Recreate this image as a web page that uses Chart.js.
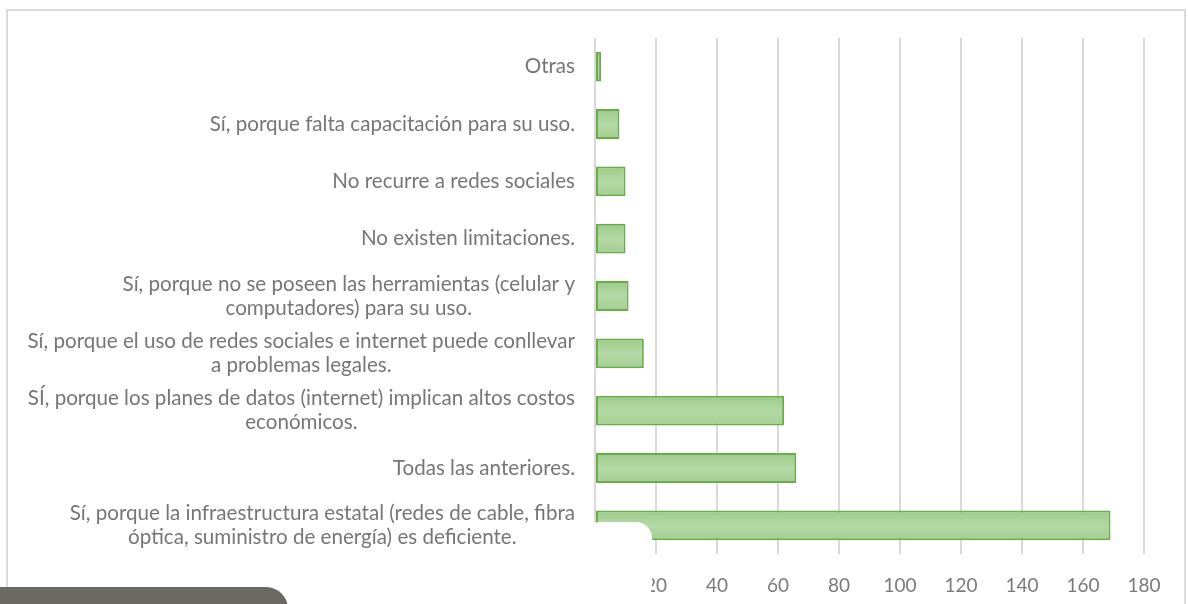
<!DOCTYPE html>
<html><head><meta charset="utf-8">
<script src="https://cdn.jsdelivr.net/npm/chart.js@4.4.0/dist/chart.umd.min.js"></script>
<style>
html,body{margin:0;padding:0;background:#fff;overflow:hidden}
#wrap{position:relative;width:1188px;height:604px;overflow:hidden}
#frame{position:absolute;left:6px;top:9px;width:1180px;height:640px;border:2px solid #dcdcdc;box-sizing:border-box}
canvas{position:absolute;left:0;top:0}
#card{position:absolute;left:584px;top:522px;width:68px;height:80px;background:#fff;border-radius:16px}
#dark{position:absolute;left:-24px;top:587px;width:312px;height:60px;background:#6a6a62;border-radius:22px}
</style></head>
<body><div id="wrap"><div id="frame"></div><canvas id="c" width="1188" height="604"></canvas><div id="card"></div><div id="dark"></div></div>
<script>
const categories = [
  ["Otras"],
  ["Sí, porque falta capacitación para su uso."],
  ["No recurre a redes sociales"],
  ["No existen limitaciones."],
  ["Sí, porque no se poseen las herramientas (celular y", "computadores) para su uso."],
  ["Sí, porque el uso de redes sociales e internet puede conllevar", "a problemas legales."],
  ["SÍ, porque los planes de datos (internet) implican altos costos", "económicos."],
  ["Todas las anteriores."],
  ["Sí, porque la infraestructura estatal (redes de cable, fibra", "óptica, suministro de energía) es deficiente."]
];
const values = [2, 8, 10, 10, 11, 16, 62, 66, 169];
const xTickLabels = ["0", "20", "40", "60", "80", "100", "120", "140", "160", "180"];

const labelFont = '20.6px Lato';
const labelPlugin = {
  id: 'catLabels',
  beforeDatasetsDraw(chart) {
    const ctx = chart.ctx;
    chart.getDatasetMeta(0).data.forEach(el => {
      const h = el.height;
      if (!Number.isFinite(el.y) || !Number.isFinite(h) || h <= 0) return;
      const g = ctx.createLinearGradient(0, el.y - h / 2, 0, el.y + h / 2);
      g.addColorStop(0, '#9bcb87');
      g.addColorStop(0.5, '#b4d9a6');
      g.addColorStop(1, '#a3cf91');
      el.options = Object.assign({}, el.options, { backgroundColor: g });
    });
  },
  afterDatasetsDraw(chart) {
    const ctx = chart.ctx;
    const y = chart.scales.y;
    const right = chart.chartArea.left - 20;
    const lh = 24;
    ctx.save();
    ctx.font = labelFont;
    ctx.fillStyle = '#767676';
    ctx.textAlign = 'center';
    ctx.textBaseline = 'middle';
    categories.forEach((lines, i) => {
      const cy = y.getPixelForValue(i);
      const w = Math.max(...lines.map(l => ctx.measureText(l).width));
      const cx = right - w / 2;
      const start = cy - (lines.length - 1) * lh / 2;
      lines.forEach((l, j) => ctx.fillText(l, cx, start + j * lh));
    });
    ctx.restore();
  }
};

new Chart(document.getElementById('c'), {
  type: 'bar',
  data: {
    labels: categories.map(c => c.join(' ')),
    datasets: [{
      data: values,
      backgroundColor: '#a9d39a',
      borderColor: '#6aac49',
      borderWidth: 2,
      borderSkipped: false,
      barPercentage: 0.52,
      categoryPercentage: 1
    }]
  },
  options: {
    indexAxis: 'y',
    responsive: false,
    devicePixelRatio: 1,
    animation: false,
    layout: { padding: { left: 595, right: 44, top: 38, bottom: 0 } },
    plugins: { legend: { display: false }, tooltip: { enabled: false } },
    scales: {
      y: {
        ticks: { display: false },
        grid: { display: false },
        border: { display: false },
        afterFit: s => { s.width = 0; }
      },
      x: {
        min: 0, max: 180,
        afterFit: s => { s.height = 50; },
        ticks: {
          stepSize: 20,
          padding: 20,
          color: '#7a7a7a',
          font: { family: 'Lato', size: 19 },
          callback: (v, i) => xTickLabels[i]
        },
        grid: { color: '#d9d9d9', lineWidth: 2, drawTicks: false },
        border: { display: false }
      }
    }
  },
  plugins: [labelPlugin]
});
</script>
</body></html>
